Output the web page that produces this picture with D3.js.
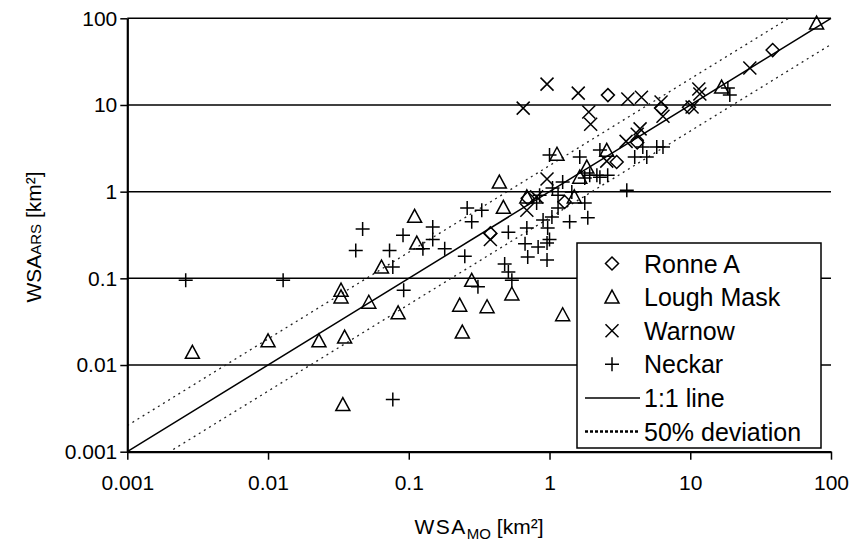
<!DOCTYPE html>
<html>
<head>
<meta charset="utf-8">
<script src="https://cdn.jsdelivr.net/npm/d3@7"></script>
<style>
  body { margin: 0; background: #fff; }
  text { font-family: "Liberation Sans", Arial, sans-serif; fill: #000; }
</style>
</head>
<body>
<div id="chart"></div>
<script>
// ticks shared by both log axes
const tickValues = [0.001, 0.01, 0.1, 1, 10, 100];
const tickLabels = ["0.001", "0.01", "0.1", "1", "10", "100"];

// [WSA_MO, WSA_ARS] in km²
const ronneA = [
  [2.6, 13], [38.5, 43], [6.2, 9.2], [9.8, 9.4], [4.2, 3.7], [3.0, 2.2],
  [1.28, 0.76], [0.38, 0.33], [0.70, 0.84]
];
const loughMask = [
  [0.0029, 0.014], [0.01, 0.019], [0.023, 0.019], [0.035, 0.021], [0.033, 0.073],
  [0.033, 0.061], [0.052, 0.053], [0.084, 0.04], [0.064, 0.135], [0.114, 0.255],
  [0.23, 0.049], [0.24, 0.024], [0.034, 0.0035], [0.28, 0.095], [0.36, 0.047],
  [0.54, 0.066], [1.24, 0.038], [0.11, 0.52], [0.44, 1.29], [0.47, 0.66],
  [1.13, 2.7], [2.55, 3.0], [1.84, 1.92], [1.64, 1.47], [0.69, 0.87],
  [79, 88], [16.7, 16.1], [1.5, 0.87]
];
const warnow = [
  [0.96, 17.4], [0.65, 9.2], [1.6, 13.7], [1.9, 8.3], [1.96, 6.0], [3.6, 11.7],
  [4.5, 12.3], [6.2, 10.8], [6.4, 7.4], [11.5, 15.3], [11.7, 13.4], [10.3, 9.5],
  [26.5, 26.7], [4.4, 5.3], [4.2, 4.6], [3.5, 3.8], [2.55, 2.25], [0.96, 1.4],
  [0.81, 0.87], [0.69, 0.61], [0.38, 0.28]
];
const neckar = [
  [0.0026, 0.095], [0.0128, 0.095], [0.042, 0.21], [0.073, 0.21], [0.077, 0.135],
  [0.092, 0.073], [0.077, 0.004], [0.091, 0.315], [0.047, 0.37], [0.126, 0.22],
  [0.148, 0.28], [0.148, 0.39], [0.18, 0.22], [0.25, 0.18], [0.26, 0.65],
  [0.33, 0.61], [0.28, 0.45], [0.31, 0.08], [0.48, 0.146], [0.51, 0.118],
  [0.54, 0.095], [0.51, 0.34], [0.69, 0.38], [0.67, 0.25], [0.70, 0.176],
  [0.83, 0.23], [0.96, 0.255], [0.96, 0.163], [1.24, 1.29], [1.78, 1.44],
  [2.17, 1.55], [2.59, 1.55], [3.54, 1.04], [0.85, 0.91], [1.15, 0.91],
  [1.78, 0.74], [0.90, 0.47], [1.15, 0.65], [1.39, 0.45], [1.87, 0.50],
  [0.97, 0.38], [1.0, 0.28], [1.0, 2.64], [1.64, 2.51], [2.28, 3.02],
  [2.28, 1.47], [1.93, 1.55], [4.03, 2.51], [4.91, 2.51], [5.78, 3.27],
  [6.4, 3.27], [1.05, 1.10], [1.44, 0.99], [19.1, 13.0], [18.5, 15.7],
  [0.81, 0.74], [1.04, 0.51], [4.6, 3.27]
];

// reference lines
const oneToOne = [[0.001, 0.001], [100, 100]];
const deviationFactors = [0.5, 2];

const legendItems = [
  { name: "Ronne A", type: "symbol", shape: "diamond" },
  { name: "Lough Mask", type: "symbol", shape: "triangle" },
  { name: "Warnow", type: "symbol", shape: "cross" },
  { name: "Neckar", type: "symbol", shape: "plus" },
  { name: "1:1 line", type: "line", dash: null },
  { name: "50% deviation", type: "line", dash: "3,2" }
];

const width = 852, height = 548;
const plot = { left: 127.3, right: 831, top: 18.3, bottom: 451.7 };

const x = d3.scaleLog().domain([0.001, 100]).range([plot.left, plot.right]);
const y = d3.scaleLog().domain([0.001, 100]).range([plot.bottom, plot.top]);

// marker outlines, all hollow black
const shapes = {
  diamond: "M0,-6.5L6.5,0L0,6.5L-6.5,0Z",
  triangle: "M0,-7L7,6L-7,6Z",
  cross: "M-6.5,-6.5L6.5,6.5M-6.5,6.5L6.5,-6.5",
  plus: "M-7,0L7,0M0,-7L0,7"
};

const svg = d3.select("#chart").append("svg")
  .attr("width", width)
  .attr("height", height);

// horizontal gridlines
svg.append("g").selectAll("line")
  .data(tickValues.slice(1))
  .join("line")
    .attr("x1", plot.left).attr("x2", plot.right)
    .attr("y1", d => y(d)).attr("y2", d => y(d))
    .attr("stroke", "#000").attr("stroke-width", 1.5);

const line = d3.line().x(d => x(d[0])).y(d => y(d[1]));

// 50% deviation lines, clipped to the plot
svg.append("clipPath").attr("id", "clip")
  .append("rect")
    .attr("x", plot.left).attr("y", plot.top)
    .attr("width", plot.right - plot.left).attr("height", plot.bottom - plot.top);

svg.append("g").attr("clip-path", "url(#clip)")
  .selectAll("path")
  .data(deviationFactors)
  .join("path")
    .attr("d", f => line(oneToOne.map(d => [d[0], d[1] * f])))
    .attr("fill", "none")
    .attr("stroke", "#222")
    .attr("stroke-width", 1.3)
    .attr("stroke-dasharray", "2,4");

svg.append("path")
  .attr("d", line(oneToOne))
  .attr("fill", "none")
  .attr("stroke", "#000")
  .attr("stroke-width", 1.5);

// scatter series
const series = [
  { data: ronneA, shape: "diamond" },
  { data: loughMask, shape: "triangle" },
  { data: warnow, shape: "cross" },
  { data: neckar, shape: "plus" }
];
series.forEach(s => {
  svg.append("g").selectAll("path")
    .data(s.data)
    .join("path")
      .attr("transform", d => `translate(${x(d[0])},${y(d[1])})`)
      .attr("d", shapes[s.shape])
      .attr("fill", "none")
      .attr("stroke", "#000")
      .attr("stroke-width", 1.5);
});

// axes
const fmt = d => tickLabels[tickValues.indexOf(d)];

const xAxis = svg.append("g")
  .attr("transform", `translate(0,${plot.bottom})`)
  .call(d3.axisBottom(x).tickValues(tickValues).tickFormat(fmt).tickSize(8).tickSizeOuter(0).tickPadding(15));
const yAxis = svg.append("g")
  .attr("transform", `translate(${plot.left},0)`)
  .call(d3.axisLeft(y).tickValues(tickValues).tickFormat(fmt).tickSize(7).tickSizeOuter(0).tickPadding(3));

[xAxis, yAxis].forEach(a => {
  a.select(".domain").attr("stroke", "#000").attr("stroke-width", 2.2);
  a.selectAll(".tick line").attr("stroke", "#000").attr("stroke-width", 1.5);
  a.selectAll(".tick text")
    .style("font-family", "'Liberation Sans', Arial, sans-serif")
    .style("font-size", "21px")
    .attr("fill", "#000");
});

// axis titles
const xTitle = svg.append("text")
  .attr("x", 479).attr("y", 534)
  .attr("text-anchor", "middle")
  .style("font-size", "21px");
xTitle.append("tspan").text("WSA").attr("letter-spacing", "1.5px");
xTitle.append("tspan").text("MO").attr("dy", 5).style("font-size", "15px");
xTitle.append("tspan").text(" [km²]").attr("dy", -5);

const yTitle = svg.append("text")
  .attr("transform", "translate(41,237) rotate(-90)")
  .attr("text-anchor", "middle")
  .style("font-size", "21px");
yTitle.append("tspan").text("WSA");
yTitle.append("tspan").text("ARS").style("font-size", "15px");
yTitle.append("tspan").text(" [km²]");

// legend
const legend = svg.append("g").attr("transform", "translate(577,243)");
legend.append("rect")
  .attr("width", 244).attr("height", 205)
  .attr("fill", "#fff").attr("stroke", "#000").attr("stroke-width", 1.5);

const rows = legend.selectAll("g.row")
  .data(legendItems)
  .join("g")
    .attr("class", "row")
    .attr("transform", (d, i) => `translate(0,${20.5 + i * 33.6})`);

rows.filter(d => d.type === "symbol").append("path")
  .attr("transform", "translate(35,0)")
  .attr("d", d => shapes[d.shape])
  .attr("fill", "none").attr("stroke", "#000").attr("stroke-width", 1.5);

rows.filter(d => d.type === "line").append("line")
  .attr("x1", 8).attr("x2", 63)
  .attr("stroke", "#000")
  .attr("stroke-width", d => d.dash ? 2.5 : 1.5)
  .attr("stroke-dasharray", d => d.dash);

rows.append("text")
  .attr("x", 67).attr("dy", "0.36em")
  .style("font-size", "25px")
  .text(d => d.name);
</script>
</body>
</html>
